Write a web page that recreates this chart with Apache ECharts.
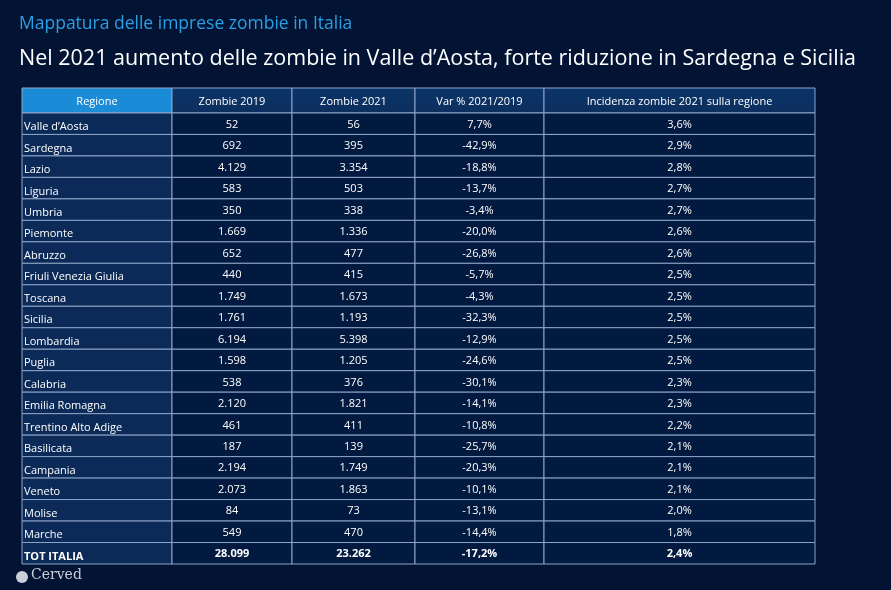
<!DOCTYPE html>
<html lang="it">
<head>
<meta charset="UTF-8">
<title>Imprese zombie</title>
<script src="https://cdn.jsdelivr.net/npm/echarts@6/dist/echarts.min.js"></script>
<style>html,body{margin:0;background:#021333;}#chart{width:891px;height:590px;}</style>
</head>
<body>
<div id="chart"></div>
<script>
var headers = ['Regione', 'Zombie 2019', 'Zombie 2021', 'Var % 2021/2019', 'Incidenza zombie 2021 sulla regione'];
var regions = ["Valle d\u2019Aosta", 'Sardegna', 'Lazio', 'Liguria', 'Umbria', 'Piemonte', 'Abruzzo', 'Friuli Venezia Giulia', 'Toscana', 'Sicilia', 'Lombardia', 'Puglia', 'Calabria', 'Emilia Romagna', 'Trentino Alto Adige', 'Basilicata', 'Campania', 'Veneto', 'Molise', 'Marche', 'TOT ITALIA'];
var zombie2019 = ['52', '692', '4.129', '583', '350', '1.669', '652', '440', '1.749', '1.761', '6.194', '1.598', '538', '2.120', '461', '187', '2.194', '2.073', '84', '549', '28.099'];
var zombie2021 = ['56', '395', '3.354', '503', '338', '1.336', '477', '415', '1.673', '1.193', '5.398', '1.205', '376', '1.821', '411', '139', '1.749', '1.863', '73', '470', '23.262'];
var variazione = ['7,7%', '-42,9%', '-18,8%', '-13,7%', '-3,4%', '-20,0%', '-26,8%', '-5,7%', '-4,3%', '-32,3%', '-12,9%', '-24,6%', '-30,1%', '-14,1%', '-10,8%', '-25,7%', '-20,3%', '-10,1%', '-13,1%', '-14,4%', '-17,2%'];
var incidenza = ['3,6%', '2,9%', '2,8%', '2,7%', '2,7%', '2,6%', '2,6%', '2,5%', '2,5%', '2,5%', '2,5%', '2,5%', '2,3%', '2,3%', '2,2%', '2,1%', '2,1%', '2,1%', '2,0%', '1,8%', '2,4%'];
var colEdges = [0, 150, 270, 393, 522, 793];
var headerH = 25, rowH = 21.5;

var columns = [regions, zombie2019, zombie2021, variazione, incidenza];
function rowTop(r) { return r === 0 ? 0 : headerH + (r - 1) * rowH; }
function rowBottom(r) { return r === 0 ? headerH : headerH + r * rowH; }
var cells = [];
for (var c = 0; c < 5; c++) {
  cells.push([c, 0, headers[c]]);
  for (var r = 0; r < regions.length; r++) cells.push([c, r + 1, columns[c][r]]);
}
var last = regions.length;

var chart = echarts.init(document.getElementById('chart'));
chart.setOption({
  backgroundColor: '#021333',
  title: [
    { text: 'Mappatura delle imprese zombie in Italia', left: 14, top: 10,
      textStyle: { color: '#2a9fe3', fontSize: 17.5, fontWeight: 'normal', fontFamily: 'Open Sans' } },
    { text: 'Nel 2021 aumento delle zombie in Valle d\u2019Aosta, forte riduzione in Sardegna e Sicilia', left: 14, top: 43,
      textStyle: { color: '#ffffff', fontSize: 21.5, fontWeight: 'normal', fontFamily: 'Open Sans' } }
  ],
  graphic: [
    { type: 'circle', left: 16, top: 571, shape: { r: 6 }, style: { fill: '#c9ced8' } },
    { type: 'text', left: 31, top: 568, style: { text: 'Cerved', fill: '#c9ced8', font: '14px "DejaVu Serif"' } }
  ],
  grid: { left: 22, right: 76, top: 88, bottom: 26 },
  xAxis: { type: 'value', min: 0, max: 793, show: false },
  yAxis: { type: 'value', min: 0, max: rowBottom(last), inverse: true, show: false },
  series: [{
    type: 'custom',
    data: cells,
    encode: { x: 0, y: 1 },
    renderItem: function (params, api) {
      var c = api.value(0), r = api.value(1);
      var p0 = api.coord([colEdges[c], rowTop(r)]);
      var p1 = api.coord([colEdges[c + 1], rowBottom(r)]);
      var x = p0[0], y = p0[1], w = p1[0] - p0[0], h = p1[1] - p0[1];
      var fill;
      if (r === 0) {
        fill = c === 0 ? '#1a8bd6' : new echarts.graphic.LinearGradient(0, 0, 0, 1, [{ offset: 0, color: '#0a3568' }, { offset: 1, color: '#0d2e5e' }]);
      } else {
        fill = c === 0 ? '#0b2a58' : '#031a40';
      }
      var text = cells[params.dataIndex][2];
      var bold = r === last;
      var left = c === 0 && r > 0;
      return {
        type: 'group',
        children: [
          { type: 'rect', shape: { x: x, y: y, width: w, height: h },
            style: { fill: fill, stroke: '#8ea4c8', lineWidth: 1 } },
          { type: 'text',
            style: { text: text, x: left ? x + 2 : x + w / 2, y: left ? y + h - 2 : y + h / 2 + 1,
              align: left ? 'left' : 'center', verticalAlign: left ? 'bottom' : 'middle',
              fill: '#ffffff', font: (bold ? 'bold ' : '') + '11px "Open Sans"' } }
        ]
      };
    }
  }]
});
</script>
</body>
</html>
